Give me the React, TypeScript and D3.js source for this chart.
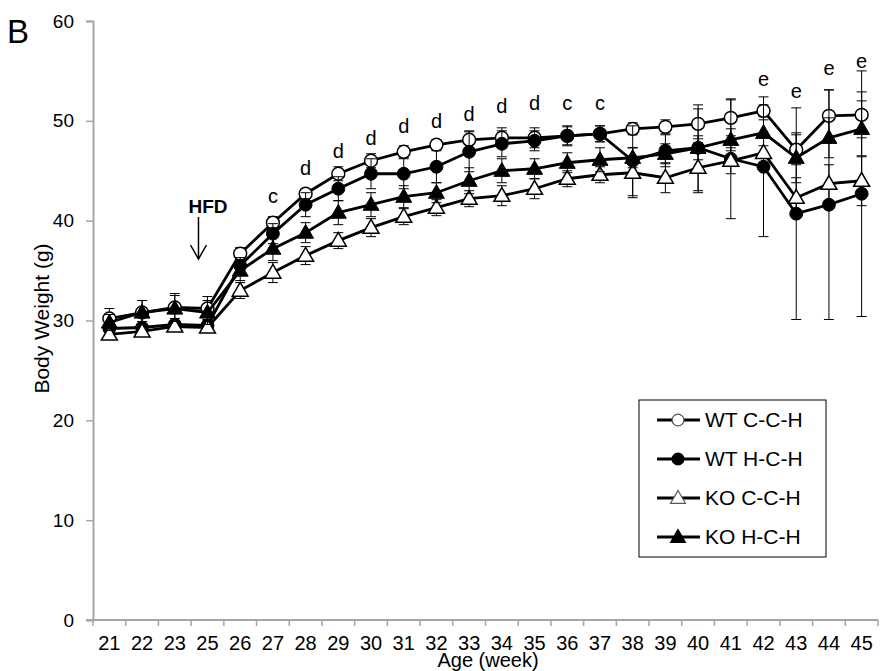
import React, { useRef, useEffect } from "react";
import * as d3 from "d3";

// Age in weeks (week 24 is not measured)
const weeks = ["21", "22", "23", "25", "26", "27", "28", "29", "30", "31", "32", "33", "34", "35", "36", "37", "38", "39", "40", "41", "42", "43", "44", "45"];

const wtCCH = [30.2, 30.8, 31.3, 31.2, 36.7, 39.8, 42.7, 44.7, 46.0, 46.9, 47.6, 48.1, 48.3, 48.3, 48.5, 48.7, 49.2, 49.4, 49.7, 50.3, 51.0, 47.1, 50.5, 50.6];
const wtCCHErr = [1.0, 1.2, 1.4, 1.2, 0.6, 0.6, 0.5, 0.7, 0.7, 0.6, 0.5, 0.9, 1.0, 1.0, 1.0, 0.8, 0.6, 0.7, 1.5, 1.8, 0.6, 1.5, 2.6, 2.3];

const wtHCH = [29.2, 29.3, 29.6, 29.5, 35.5, 38.7, 41.6, 43.2, 44.7, 44.7, 45.4, 46.9, 47.7, 48.0, 48.5, 48.7, 46.0, 47.0, 47.3, 46.2, 45.4, 40.7, 41.6, 42.7];
const wtHCHErr = [0.6, 0.6, 0.6, 0.6, 0.8, 1.0, 1.2, 1.2, 1.5, 1.5, 1.6, 2.0, 1.3, 1.0, 0.9, 0.8, 3.5, 1.6, 4.3, 6.0, 7.0, 10.6, 11.5, 12.3];

const koCCH = [28.6, 28.9, 29.4, 29.3, 33.0, 34.8, 36.5, 38.0, 39.3, 40.4, 41.3, 42.2, 42.5, 43.2, 44.2, 44.6, 44.8, 44.3, 45.3, 46.0, 46.8, 42.3, 43.7, 44.0];
const koCCHErr = [0.5, 0.5, 0.5, 0.5, 0.8, 1.0, 0.9, 0.8, 0.9, 0.8, 0.8, 0.8, 1.0, 1.0, 0.8, 0.8, 2.5, 1.5, 2.5, 1.3, 1.5, 2.0, 1.9, 2.5];

const koHCH = [29.8, 30.8, 31.2, 30.8, 35.0, 37.2, 38.8, 40.8, 41.6, 42.4, 42.8, 44.0, 45.0, 45.2, 45.8, 46.1, 46.3, 46.7, 47.3, 48.1, 48.8, 46.3, 48.3, 49.2];
const koHCHErr = [0.8, 1.2, 1.3, 1.2, 1.0, 1.2, 1.0, 1.2, 1.2, 1.1, 1.0, 1.3, 1.2, 1.0, 1.0, 1.2, 1.0, 1.0, 1.2, 1.1, 1.3, 2.5, 2.0, 2.8];

// significance letters (week, letter, y level)
const sigWeeks = ["27", "28", "29", "30", "31", "32", "33", "34", "35", "36", "37", "42", "43", "44", "45"];
const sigLetters = ["c", "d", "d", "d", "d", "d", "d", "d", "d", "c", "c", "e", "e", "e", "e"];
const sigLevels = [42.5, 45.3, 47.0, 48.3, 49.5, 50.0, 50.7, 51.5, 51.8, 51.8, 51.8, 54.2, 53.0, 55.3, 56.0];

const yTicks = [0, 10, 20, 30, 40, 50, 60];

const seriesNames = ["WT C-C-H", "WT H-C-H", "KO C-C-H", "KO H-C-H"];

const App: React.FC = () => {
  const svgRef = useRef<SVGSVGElement>(null);
  const width = 881;
  const height = 671;

  useEffect(() => {
    document.body.style.margin = "0";
    if (!svgRef.current) return;
    const svg = d3.select(svgRef.current);
    svg.selectAll("*").remove();

    const font = "'Liberation Sans', Arial, sans-serif";
    const axisColor = "#a6a6a6";

    const x = d3.scaleBand().domain(weeks).range([93, 878]).paddingInner(0).paddingOuter(0);
    const cx = (w: string) => (x(w) ?? 0) + x.bandwidth() / 2;
    const y = d3.scaleLinear().domain([0, 60]).range([620, 21]);

    // y axis
    const yAxis = d3.axisLeft(y).tickValues(yTicks).tickSize(7).tickPadding(12).tickFormat(d3.format("d"));
    const gy = svg.append("g").attr("transform", "translate(93,0)").call(yAxis);
    gy.select(".domain").attr("stroke", axisColor).attr("stroke-width", 2);
    gy.selectAll(".tick line").attr("stroke", axisColor).attr("stroke-width", 1.5);
    gy.selectAll(".tick text").attr("font-family", font).attr("font-size", 19).attr("fill", "#000");

    // x axis: labels at centers, ticks at category boundaries
    const xAxis = d3.axisBottom(x).tickSize(0).tickPadding(16);
    const gx = svg.append("g").attr("transform", `translate(0,${y(0)})`).call(xAxis);
    gx.select(".domain").remove();
    gx.selectAll(".tick text").attr("font-family", font).attr("font-size", 20).attr("fill", "#000");
    svg.append("line")
      .attr("x1", 86).attr("x2", 878)
      .attr("y1", y(0)).attr("y2", y(0))
      .attr("stroke", axisColor).attr("stroke-width", 2);
    const bounds = weeks.map((w) => x(w) ?? 0).concat([x.range()[1]]);
    svg.selectAll(".xtick")
      .data(bounds)
      .enter()
      .append("line")
      .attr("x1", (d) => d).attr("x2", (d) => d)
      .attr("y1", y(0)).attr("y2", y(0) + 6)
      .attr("stroke", axisColor).attr("stroke-width", 1.5);

    // axis titles
    svg.append("text")
      .attr("transform", `translate(49,${y(30.2)}) rotate(-90)`)
      .attr("text-anchor", "middle")
      .attr("font-family", font).attr("font-size", 21)
      .text("Body Weight (g)");
    svg.append("text")
      .attr("x", 488).attr("y", 667)
      .attr("text-anchor", "middle")
      .attr("font-family", font).attr("font-size", 20)
      .text("Age (week)");

    svg.append("text")
      .attr("x", 7).attr("y", 43)
      .attr("font-family", font).attr("font-size", 33)
      .text("B");

    const series = [
      { vals: wtCCH, err: wtCCHErr, shape: "circle", fill: "#fff" },
      { vals: wtHCH, err: wtHCHErr, shape: "circle", fill: "#000" },
      { vals: koCCH, err: koCCHErr, shape: "triangle", fill: "#fff" },
      { vals: koHCH, err: koHCHErr, shape: "triangle", fill: "#000" },
    ];

    const circleSym = d3.symbol().type(d3.symbolCircle).size(130);
    const triSym = d3.symbol().type(d3.symbolTriangle).size(110);

    const line = d3.line<number>()
      .x((_, i) => cx(weeks[i]))
      .y((d) => y(d));

    series.forEach((s) => {
      const g = svg.append("g");
      // error bars
      const eb = g.selectAll(".err").data(s.vals).enter().append("g");
      eb.append("line")
        .attr("x1", (_, i) => cx(weeks[i])).attr("x2", (_, i) => cx(weeks[i]))
        .attr("y1", (d, i) => y(d - s.err[i])).attr("y2", (d, i) => y(d + s.err[i]))
        .attr("stroke", "#000").attr("stroke-width", 1);
      [-1, 1].forEach((sign) => {
        eb.append("line")
          .attr("x1", (_, i) => cx(weeks[i]) - 5).attr("x2", (_, i) => cx(weeks[i]) + 5)
          .attr("y1", (d, i) => y(d + sign * s.err[i])).attr("y2", (d, i) => y(d + sign * s.err[i]))
          .attr("stroke", "#000").attr("stroke-width", 1);
      });
      g.append("path")
        .datum(s.vals)
        .attr("d", line)
        .attr("fill", "none")
        .attr("stroke", "#000")
        .attr("stroke-width", 2.8);
      g.selectAll(".pt")
        .data(s.vals)
        .enter()
        .append("path")
        .attr("transform", (d, i) => `translate(${cx(weeks[i])},${y(d) + (s.shape === "triangle" ? 1 : 0)})`)
        .attr("d", s.shape === "circle" ? circleSym() : triSym())
        .attr("fill", s.fill)
        .attr("stroke", "#000")
        .attr("stroke-width", s.fill === "#fff" ? 1.5 : 1);
    });

    // significance letters
    svg.selectAll(".sig")
      .data(sigWeeks)
      .enter()
      .append("text")
      .attr("x", (d) => cx(d))
      .attr("y", (_, i) => y(sigLevels[i]))
      .attr("dy", "0.35em")
      .attr("text-anchor", "middle")
      .attr("font-family", font).attr("font-size", 20)
      .text((_, i) => sigLetters[i]);

    // HFD arrow
    const ax = cx("25") - 9;
    svg.append("text")
      .attr("x", ax - 10).attr("y", 213)
      .attr("font-family", font).attr("font-size", 19).attr("font-weight", "bold")
      .text("HFD");
    svg.append("line")
      .attr("x1", ax).attr("x2", ax).attr("y1", 217).attr("y2", 259)
      .attr("stroke", "#000").attr("stroke-width", 1.5);
    svg.append("path")
      .attr("d", `M${ax - 8},${245} L${ax},${259} L${ax + 8},${245}`)
      .attr("fill", "none").attr("stroke", "#000").attr("stroke-width", 1.5);

    // legend
    const legend = svg.append("g");
    legend.append("rect")
      .attr("x", 639).attr("y", 400).attr("width", 187).attr("height", 157)
      .attr("fill", "#fff").attr("stroke", "#000").attr("stroke-width", 1);
    const legCircle = d3.symbol().type(d3.symbolCircle).size(110);
    const legTri = d3.symbol().type(d3.symbolTriangle).size(95);
    series.forEach((s, i) => {
      const ly = 420 + i * 39;
      const lg = legend.append("g").attr("transform", `translate(0,${ly})`);
      lg.append("line")
        .attr("x1", 657).attr("x2", 700).attr("y1", 0).attr("y2", 0)
        .attr("stroke", "#000").attr("stroke-width", 2.8);
      lg.append("path")
        .attr("transform", `translate(678,${s.shape === "triangle" ? 1 : 0})`)
        .attr("d", s.shape === "circle" ? legCircle() : legTri())
        .attr("fill", s.fill)
        .attr("stroke", s.fill === "#fff" ? "#555" : "#000")
        .attr("stroke-width", 1.2);
      lg.append("text")
        .attr("x", 705).attr("y", 0).attr("dy", "0.35em")
        .attr("font-family", font).attr("font-size", 21)
        .text(seriesNames[i]);
    });
  }, []);

  return <svg ref={svgRef} width={width} height={height} style={{ display: "block" }}></svg>;
};

export default App;
